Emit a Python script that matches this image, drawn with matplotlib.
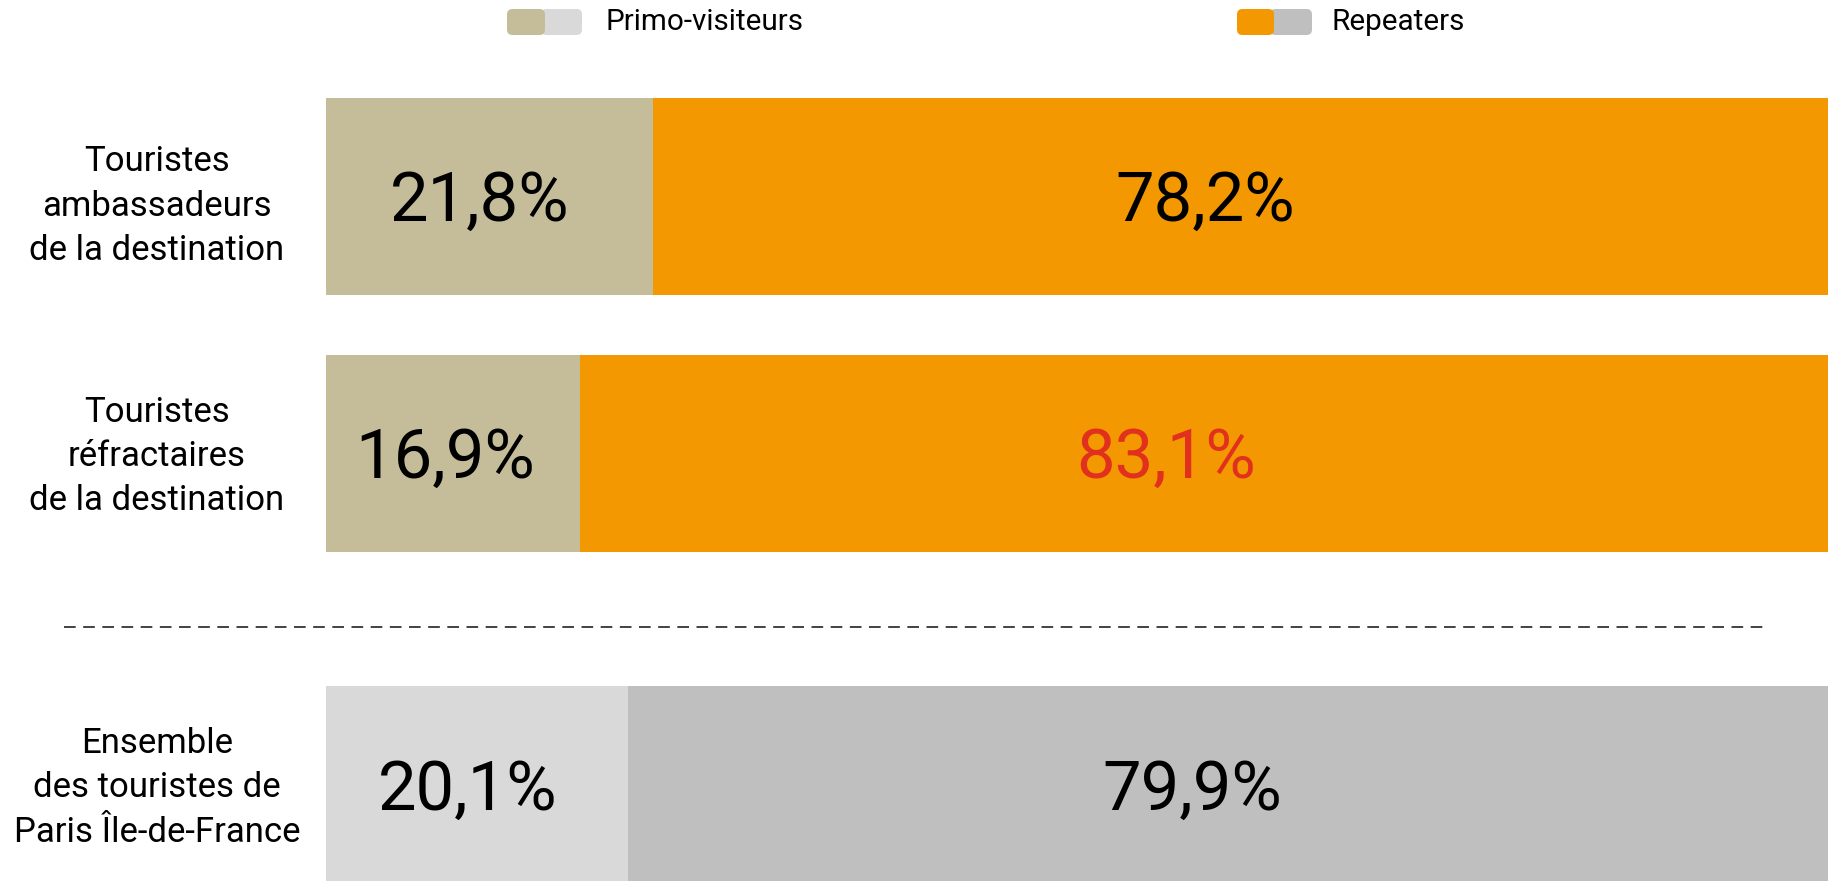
import matplotlib
matplotlib.use("Agg")
import matplotlib.pyplot as plt
from matplotlib.patches import FancyBboxPatch

# ---------------- data ----------------
categories = [
    "Touristes\nambassadeurs\nde la destination",
    "Touristes\nréfractaires\nde la destination",
    "Ensemble\ndes touristes de\nParis Île-de-France",
]
primo = [21.8, 16.9, 20.1]
repeaters = [78.2, 83.1, 79.9]
series_names = ["Primo-visiteurs", "Repeaters"]

# ---------------- style ----------------
plt.rcParams["font.family"] = ["Roboto", "DejaVu Sans"]
BEIGE = "#C5BD99"
ORANGE = "#F39800"
LGRAY = "#D9D9D9"
GRAY = "#BFBFBF"
RED = "#E2301E"
primo_colors = [BEIGE, BEIGE, LGRAY]
rep_colors = [ORANGE, ORANGE, GRAY]
rep_text_colors = ["black", RED, "black"]

W, H, DPI = 1828, 881, 100
fig = plt.figure(figsize=(W / DPI, H / DPI), dpi=DPI)

# axes: x 0..100 maps to px 326..1828, full height
left_px = 326
ax = fig.add_axes([left_px / W, 0, 1 - left_px / W, 1])
unit = 257.5  # px per y unit
ypos = [0, 1, 2.287]
ax.set_xlim(0, 100)
ax.set_ylim((H - 196) / unit, -196 / unit)
ax.axis("off")

bar_h = 197 / unit
ax.barh(ypos, primo, height=bar_h, color=primo_colors, linewidth=0)
ax.barh(ypos, repeaters, left=primo, height=bar_h, color=rep_colors, linewidth=0)

k = 0.47
for y, p, r, tc in zip(ypos, primo, repeaters, rep_text_colors):
    ax.annotate(f"{p:.1f}%".replace(".", ","), (p * k, y), xytext=(0, -17.6),
                textcoords="offset points", ha="center", va="baseline",
                fontsize=49.5, color="black")
    ax.annotate(f"{r:.1f}%".replace(".", ","), (p + r * k, y), xytext=(0, -17.6),
                textcoords="offset points", ha="center", va="baseline",
                fontsize=49.5, color=tc)

# category labels
px_per_x = (W - left_px) / 100
lab_x = (157 - left_px) / px_per_x
for i, (y, c) in enumerate(zip(ypos, categories)):
    dy = (10 if i == 0 else 3) / unit
    ax.text(lab_x, y + dy, c, ha="center", va="center", multialignment="center",
            fontsize=25, linespacing=1.44, color="black", clip_on=False)

# dashed separator
sep_y = (627 - 196) / unit
ax.plot([(64 - left_px) / px_per_x, (1768 - left_px) / px_per_x], [sep_y, sep_y],
        color="#222222", linewidth=1.2, linestyle=(0, (7, 4.5)), clip_on=False)

# legend (figure pixels -> fraction)
def fx(px):
    return px / W

def fy(py):
    return 1 - py / H

legend_specs = [
    (507, 545, 582, 606, primo_colors[0], primo_colors[2], series_names[0]),
    (1237, 1274, 1312, 1332, rep_colors[0], rep_colors[2], series_names[1]),
]
for x0, xm, x1, tx, c1, c2, name in legend_specs:
    for a, b, col, z in [(xm - 4, x1, c2, 1), (x0, xm, c1, 2)]:
        patch = FancyBboxPatch((fx(a), fy(35)), fx(b - a), (35 - 9) / H,
                               boxstyle="round,pad=0,rounding_size=0.003",
                               transform=fig.transFigure, facecolor=col,
                               edgecolor="none", zorder=z, mutation_aspect=W / H)
        fig.add_artist(patch)
    fig.text(fx(tx), fy(22), name, ha="left", va="center", fontsize=21.3,
             color="black")

fig.savefig("out.png", dpi=DPI)
